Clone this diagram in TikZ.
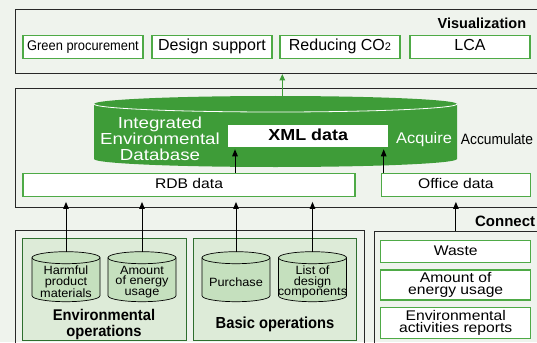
\documentclass[tikz,border=0pt]{standalone}
\usepackage{fontspec}
\setmainfont{Liberation Sans}
\newfontfamily\fA[FakeStretch=1.17]{Liberation Sans}
\newfontfamily\fB[FakeStretch=1.12]{Liberation Sans}
\newfontfamily\fC[FakeStretch=1.06]{Liberation Sans}
\newfontfamily\fN[FakeStretch=0.92]{Liberation Sans}
\newfontfamily\fM[FakeStretch=0.95]{Liberation Sans}
\usetikzlibrary{arrows.meta}
\definecolor{bgc}{RGB}{239,243,237}
\definecolor{framec}{RGB}{40,40,40}
\definecolor{gline}{RGB}{78,170,70}
\definecolor{cylgreen}{RGB}{62,156,56}
\definecolor{opfill}{RGB}{221,235,216}
\definecolor{opline}{RGB}{46,110,46}
\definecolor{scyl}{RGB}{197,224,190}
\newcommand\fsz[2]{\fontsize{#1}{#2}\selectfont}
% small cylinder: cx, top, bottom, rx, ry
\newcommand\smallcyl[5]{%
  \filldraw[fill=scyl, draw=black, line width=0.7]
    ({#1-#4},{-#2-#5}) -- ({#1-#4},{-#3+#5})
    arc[start angle=180,end angle=360,x radius=#4,y radius=#5]
    -- ({#1+#4},{-#2-#5})
    arc[start angle=0,end angle=180,x radius=#4,y radius=#5] -- cycle;
  \draw[black, line width=0.7] ({#1-#4},{-#2-#5})
    arc[start angle=180,end angle=360,x radius=#4,y radius=#5];}
\begin{document}
\begin{tikzpicture}[x=1pt,y=1pt,
  frame/.style={draw=framec, line width=0.8, inner sep=0},
  gbox/.style={draw=gline, fill=white, line width=1.1, inner sep=0},
  oneline/.style={text height=0.85em, text depth=0.15em},
  opbox/.style={draw=opline, fill=opfill, line width=0.9, inner sep=0},
  cylnode/.style={inner sep=0, align=center, minimum width=68, minimum height=60.6, font=\fC\fsz{12}{10.8}},
  barrow/.style={draw=black, line width=1, -{Triangle[length=7pt,width=5.5pt]}},
  garrow/.style={draw=cylgreen, line width=1.3, -{Triangle[length=6.5pt,width=5.5pt]}}]
\useasboundingbox (0,0) rectangle (537,-342);
\fill[bgc] (0,0) rectangle (537,-342);
\clip (0,0) rectangle (537,-342);

% ---------- frames ----------
\node[frame, anchor=north west, minimum width=530, minimum height=63.7] (vis) at (15,-9) {};
\node[frame, anchor=north west, minimum width=530, minimum height=119.3] (mid) at (15,-88) {};
\node[frame, anchor=north west, minimum width=348.7, minimum height=130] (lframe) at (15,-230.3) {};
\node[frame, anchor=north west, minimum width=180, minimum height=130] (rframe) at (373.7,-230.7) {};

% ---------- visualization ----------
\node[anchor=base east, inner sep=0, font=\fsz{14.5}{17}\bfseries] (vistitle) at (526.3,-28.3) {Visualization};
\node[gbox, oneline, minimum width=120, minimum height=23, font=\fN\fsz{14}{16}] (gp) at (83,-47) {Green procurement};
\node[gbox, oneline, minimum width=120, minimum height=23, font=\fsz{16}{18}] (ds) at (212,-47) {Design support};
\node[gbox, oneline, minimum width=120, minimum height=23, font=\fsz{16}{18}] (rc) at (340,-47) {Reducing CO{\fsz{11}{11}2}};
\node[gbox, oneline, minimum width=120, minimum height=23, font=\fsz{16}{18}] (lca) at (470,-47) {LCA};

% ---------- big cylinder ----------
\fill[cylgreen] (94,-104) -- (94,-159)
  arc[start angle=180,end angle=360,x radius=181.5,y radius=8]
  -- (457,-104)
  arc[start angle=0,end angle=180,x radius=181.5,y radius=8] -- cycle;
\draw[white, line width=0.8] (94,-104) arc[start angle=180,end angle=360,x radius=181.5,y radius=8];
\node[inner sep=0, minimum width=363, minimum height=71] (db) at (275.5,-131.5) {};
\node[inner sep=0, align=center, text=white, font=\fA\fsz{16}{16}] (dbtext) at (160,-139) {Integrated\\Environmental\\Database};
\node[fill=white, inner sep=0, minimum width=159.7, minimum height=21.7, text height=1.0em, text depth=0.05em, font=\fB\fsz{16}{16}\bfseries] (xml) at (308.2,-136.2) {XML data};
\node[anchor=base west, inner sep=0, text=white, font=\fC\fsz{15.5}{16}] (acq) at (396,-143.7) {Acquire};
\node[anchor=base west, inner sep=0, font=\fN\fsz{15}{16}] (acc) at (460.7,-144) {Accumulate};

\coordinate (gstart) at (282.3,-96.5);
\draw[garrow, shorten >=0.5pt] (gstart) -- (gstart |- vis.south);

% ---------- data boxes ----------
\node[gbox, oneline, minimum width=332, minimum height=22.7, font=\fB\fsz{14}{16}] (rdb) at (189,-184.7) {RDB data};
\node[gbox, oneline, minimum width=149.7, minimum height=22.7, font=\fB\fsz{14}{16}] (office) at (455.9,-184.7) {Office data};
\draw[barrow, shorten >=2pt] ([xshift=46pt]rdb.north) -- ([xshift=46pt]rdb.north |- xml.south);
\draw[barrow, shorten >=2pt] ([xshift=-72.2pt]office.north) -- ([xshift=-72.2pt]office.north |- xml.south);

% ---------- operations ----------
\node[opbox, anchor=north west, minimum width=163.4, minimum height=102.3] (envbox) at (22.3,-237.7) {};
\node[opbox, anchor=north west, minimum width=163.6, minimum height=102.3] (basbox) at (192.7,-237.7) {};
\node[inner sep=0, align=center, font=\fM\fsz{15.5}{15.2}\bfseries] (envlbl) at (104,-324.4) {Environmental\\operations};
\node[anchor=base, inner sep=0, font=\fN\fsz{16}{16}\bfseries] (baslbl) at (275,-328.3) {Basic operations};

\smallcyl{66}{251.7}{301.7}{34}{6}
\smallcyl{142}{251.7}{301.7}{34}{6}
\smallcyl{236}{251.7}{301.7}{34}{6}
\smallcyl{312.5}{251.7}{301.7}{34}{6}
\node[cylnode] (c1) at (66,-282) {Harmful\\product\\materials};
\node[cylnode] (c2) at (142,-282) {Amount\\of energy\\usage};
\node[cylnode] (c3) at (236,-282) {Purchase};
\node[cylnode] (c4) at (312.5,-282) {List of\\design\\components};
\foreach \c in {c1,c2,c3,c4}
  \draw[barrow, shorten >=5.3pt] (\c.north) -- (\c.north |- rdb.south);

% ---------- connect ----------
\node[anchor=base east, inner sep=0, font=\fsz{15}{16}\bfseries] (conn) at (535.3,-226) {Connect};
\node[gbox, oneline, minimum width=150, minimum height=22, font=\fB\fsz{14}{12}] (waste) at (455.7,-251.7) {Waste};
\node[gbox, align=center, minimum width=150, minimum height=30, font=\fB\fsz{14}{12.6}] (amount) at (455.7,-285) {Amount of\\energy usage};
\node[gbox, align=center, minimum width=150, minimum height=31, font=\fB\fsz{14}{12.6}] (envact) at (455.7,-322.8) {Environmental\\activities reports};
\draw[barrow, shorten >=5.3pt] (office.south |- rframe.north) -- (office.south);
\end{tikzpicture}
\end{document}
